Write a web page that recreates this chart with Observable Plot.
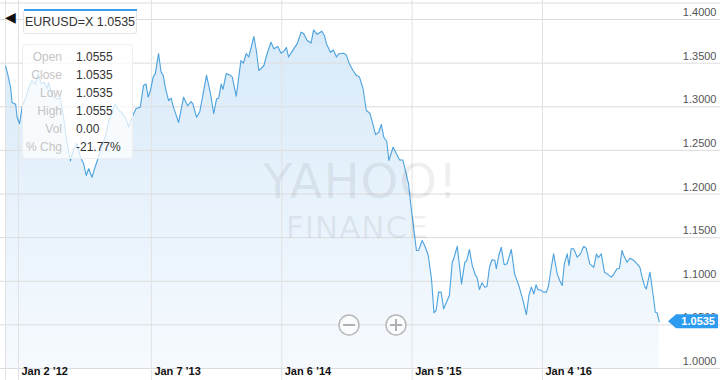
<!DOCTYPE html>
<html><head><meta charset="utf-8">
<script src="https://cdn.jsdelivr.net/npm/d3@7"></script>
<script src="https://cdn.jsdelivr.net/npm/@observablehq/plot@0.6"></script>
<style>
html,body{margin:0;padding:0;background:#fff;}
body{font-family:"Liberation Sans",Arial,sans-serif;}
#wrap{position:relative;width:720px;height:380px;overflow:hidden;}
#wrap svg{display:block;}
.ov{position:absolute;}
#sym{left:23px;top:11px;width:112px;height:22px;border:1px solid #e6e6e6;border-top:none;border-radius:0 0 3px 3px;background:#fff;font-size:12.5px;color:#333;text-align:center;line-height:22px;}
#symbar{left:24px;top:9px;width:113px;height:3px;background:#3a9ee8;}
#arrow{left:5px;top:10px;font-size:14px;line-height:14px;color:#111;}
#tip{left:22px;top:44px;width:109px;height:113px;border:1px solid #eee;border-radius:3px;background:rgba(255,255,255,0.74);font-size:12px;}
.row{position:absolute;left:0;width:109px;height:18px;line-height:18px;}
.row .l{position:absolute;right:70px;color:#c4c4c4;text-align:right;white-space:nowrap;}
.row .v{position:absolute;left:53px;color:#333;white-space:nowrap;}
.wm{position:absolute;color:rgba(0,0,0,0.075);font-family:"DejaVu Sans",sans-serif;letter-spacing:1px;line-height:1;}
</style></head>
<body>
<div id="wrap"></div>
<script>
const dates = ["2011-11-27","2011-12-03","2011-12-11","2011-12-15","2011-12-25","2011-12-29","2012-01-05","2012-01-12","2012-01-21","2012-01-31",
"2012-02-09","2012-02-18","2012-02-26","2012-03-06","2012-03-14","2012-03-22","2012-03-26","2012-04-03","2012-04-09","2012-04-19",
"2012-04-28","2012-05-06","2012-05-17","2012-05-26","2012-06-03","2012-06-13","2012-06-23","2012-07-02","2012-07-09","2012-07-16",
"2012-07-25","2012-08-03","2012-08-12","2012-08-23","2012-09-03","2012-09-11","2012-09-19","2012-09-28","2012-10-08","2012-10-17",
"2012-10-26","2012-11-05","2012-11-14","2012-11-25","2012-12-07","2012-12-16","2012-12-23","2012-12-29","2013-01-04","2013-01-12",
"2013-01-18","2013-01-27","2013-02-03","2013-02-09","2013-02-15","2013-02-24","2013-03-03","2013-03-10","2013-03-24","2013-04-07",
"2013-04-18","2013-04-28","2013-05-03","2013-05-13","2013-05-22","2013-06-10","2013-06-21","2013-06-30","2013-07-08","2013-07-14",
"2013-07-21","2013-07-26","2013-08-04","2013-08-15","2013-08-21","2013-09-01","2013-09-14","2013-09-21","2013-09-29","2013-10-06",
"2013-10-20","2013-10-27","2013-11-03","2013-11-17","2013-11-26","2013-12-07","2013-12-15","2013-12-26","2014-01-04","2014-01-13",
"2014-01-19","2014-01-25","2014-02-08","2014-02-18","2014-03-01","2014-03-08","2014-03-18","2014-03-29","2014-04-05","2014-04-15",
"2014-04-28","2014-05-05","2014-05-11","2014-05-22","2014-05-30","2014-06-08","2014-06-14","2014-06-28","2014-07-05","2014-07-14",
"2014-07-24","2014-08-02","2014-08-11","2014-08-21","2014-08-30","2014-09-09","2014-09-16","2014-09-25","2014-10-04","2014-10-11",
"2014-10-18","2014-10-26","2014-11-01","2014-11-13","2014-11-22","2014-12-01","2014-12-10","2014-12-17","2014-12-26","2015-01-02",
"2015-01-09","2015-01-17","2015-01-23","2015-02-02","2015-02-11","2015-02-19","2015-02-28","2015-03-07","2015-03-13","2015-03-20",
"2015-03-27","2015-04-03","2015-04-13","2015-04-19","2015-04-27","2015-05-01","2015-05-11","2015-05-15","2015-05-23","2015-06-01",
"2015-06-06","2015-06-14","2015-06-22","2015-07-01","2015-07-05","2015-07-12","2015-07-19","2015-07-27","2015-08-02","2015-08-09",
"2015-08-16","2015-08-24","2015-08-28","2015-09-04","2015-09-11","2015-09-19","2015-09-27","2015-10-09","2015-10-18","2015-10-30",
"2015-11-10","2015-11-20","2015-11-27","2015-12-04","2015-12-11","2015-12-17","2015-12-23","2015-12-30","2016-01-07","2016-01-15",
"2016-01-21","2016-01-28","2016-02-04","2016-02-14","2016-02-21","2016-02-28","2016-03-05","2016-03-13","2016-03-18","2016-03-24",
"2016-03-31","2016-04-10","2016-04-19","2016-04-28","2016-05-05","2016-05-15","2016-05-26","2016-06-03","2016-06-08","2016-06-16",
"2016-06-25","2016-07-02","2016-07-14","2016-07-21","2016-07-30","2016-08-06","2016-08-13","2016-08-18","2016-08-27","2016-09-04",
"2016-09-15","2016-09-24","2016-10-02","2016-10-08","2016-10-16","2016-10-20","2016-10-30","2016-11-08","2016-11-14","2016-11-19",
"2016-11-25"];
const closes = [1.3466,1.337,1.322,1.305,1.303,1.288,1.2805,1.2995,1.309,1.3224,
1.330,1.326,1.338,1.326,1.328,1.3206,1.328,1.315,1.311,1.309,
1.310,1.290,1.2575,1.238,1.250,1.258,1.242,1.2346,1.2212,1.229,
1.2192,1.2308,1.242,1.255,1.270,1.285,1.2937,1.3034,1.2957,1.293,
1.288,1.2766,1.288,1.2976,1.2995,1.3244,1.326,1.311,1.318,1.334,
1.338,1.361,1.340,1.336,1.322,1.307,1.310,1.299,1.282,1.311,
1.301,1.306,1.303,1.288,1.294,1.336,1.315,1.292,1.309,1.310,
1.326,1.320,1.338,1.336,1.334,1.312,1.353,1.350,1.361,1.357,
1.3805,1.3645,1.3415,1.347,1.3607,1.374,1.3665,1.369,1.3614,1.364,
1.368,1.357,1.366,1.372,1.3855,1.384,1.376,1.373,1.388,1.383,
1.3866,1.3817,1.372,1.3625,1.365,1.357,1.3607,1.3614,1.3595,1.349,
1.3415,1.336,1.334,1.3206,1.2957,1.2926,1.2823,1.268,1.2708,1.2797,
1.265,1.2605,1.2384,1.2536,1.246,1.239,1.239,1.227,1.2117,1.1849,
1.162,1.1352,1.1352,1.1467,1.139,1.1295,1.1028,1.0638,1.0665,1.0875,
1.0875,1.0684,1.078,1.0837,1.1218,1.1257,1.140,1.1257,1.097,1.1218,
1.123,1.1364,1.118,1.1066,1.105,1.0905,1.0982,1.0932,1.094,1.1161,
1.1246,1.124,1.1143,1.1295,1.139,1.1189,1.120,1.1364,1.1085,1.0951,
1.079,1.0616,1.0837,1.0932,1.0856,1.0959,1.090,1.090,1.0875,1.0875,
1.0951,1.1143,1.1314,1.1085,1.1009,1.0951,1.120,1.1314,1.118,1.1372,
1.1372,1.1276,1.1314,1.1398,1.1379,1.120,1.116,1.1314,1.1269,1.1314,
1.1104,1.1085,1.1047,1.108,1.1143,1.115,1.1352,1.1295,1.1218,1.1264,
1.1238,1.120,1.116,1.1047,1.0932,1.0913,1.1104,1.0837,1.0645,1.0638,
1.0535];
const xTickDates = ["2012-01-02","2013-01-07","2014-01-06","2015-01-05","2016-01-04"];
const xTickLabels = ["Jan 2 \u201912","Jan 7 \u201913","Jan 6 \u201914","Jan 5 \u201915","Jan 4 \u201916"];
const yTicks = [1.00,1.05,1.10,1.15,1.20,1.25,1.30,1.35,1.40];
const yTickLabels = ["1.0000","1.0500","1.1000","1.1500","1.2000","1.2500","1.3000","1.3500","1.4000"];
const symbol = "EURUSD=X";
const lastQuote = "1.0535";
const tipLabels = ["Open","Close","Low","High","Vol","% Chg"];
const tipValues = ["1.0555","1.0535","1.0535","1.0555","0.00","-21.77%"];

const data = dates.map((d,i)=>({date:new Date(d), value:closes[i]}));
const xt = xTickDates.map(d=>new Date(d));
const last = data[data.length-1];

const chart = Plot.plot({
  width:720, height:380,
  marginTop:0, marginBottom:0, marginLeft:0, marginRight:0,
  style:{fontFamily:"Liberation Sans, Arial, sans-serif", background:"#fff", overflow:"visible"},
  x:{type:"utc", domain:[xt[0], xt[4]], range:[18,542], axis:null},
  y:{domain:[yTicks[0], yTicks[8]], range:[368,19], axis:null},
  marks:[
    Plot.areaY(data,{x:"date", y1:()=>yTicks[0], y2:"value", fill:"url(#areaGrad)"}),
    Plot.frame({anchor:"top", dy:2.5, stroke:"#dcdcdc"}),
    Plot.ruleY(yTicks,{stroke:"#dcdcdc", strokeWidth:1}),
    Plot.ruleX(xt,{stroke:"#e2e2e2", strokeWidth:1}),
    Plot.ruleX([data[0].date],{stroke:"#e2e2e2", strokeWidth:1}),
    Plot.line(data,{x:"date", y:"value", stroke:"#4ba2de", strokeWidth:1.1}),
    Plot.text(yTicks,{y:d=>d, frameAnchor:"right", dx:-4, dy:-7, text:(d,i)=>yTickLabels[i], textAnchor:"end", fill:"#555", fontSize:11}),
    Plot.text(xt,{x:d=>d, frameAnchor:"bottom", dy:-6, dx:3, text:(d,i)=>xTickLabels[i], textAnchor:"start", fill:"#111", fontSize:11, fontWeight:"bold"})
  ]
});

const NS = "http://www.w3.org/2000/svg";
const defs = document.createElementNS(NS,"defs");
const grad = document.createElementNS(NS,"linearGradient");
grad.setAttribute("id","areaGrad"); grad.setAttribute("x1","0"); grad.setAttribute("y1","0"); grad.setAttribute("x2","0"); grad.setAttribute("y2","1");
[["0","#d8eaf9"],["1","#f6fafe"]].forEach(([o,c])=>{const s=document.createElementNS(NS,"stop");s.setAttribute("offset",o);s.setAttribute("stop-color",c);grad.appendChild(s);});
defs.appendChild(grad);
chart.insertBefore(defs, chart.firstChild);

// last-value tag
const ys = chart.scale("y").apply(last.value);
const g = document.createElementNS(NS,"g");
const p = document.createElementNS(NS,"path");
p.setAttribute("d",`M668,${ys} L676,${ys-7} L718,${ys-7} L718,${ys+7} L676,${ys+7} Z`);
p.setAttribute("fill","#2d9bef");
g.appendChild(p);
const t = document.createElementNS(NS,"text");
t.setAttribute("x","715"); t.setAttribute("y",ys+4); t.setAttribute("text-anchor","end");
t.setAttribute("font-size","11"); t.setAttribute("font-weight","bold"); t.setAttribute("fill","#fff");
t.textContent = lastQuote; g.appendChild(t);
// zoom buttons
[[349,"minus"],[396,"plus"]].forEach(([cx,k])=>{
  const c=document.createElementNS(NS,"circle");
  c.setAttribute("cx",cx);c.setAttribute("cy",325);c.setAttribute("r",10);
  c.setAttribute("fill","rgba(255,255,255,0.6)");c.setAttribute("stroke","#b8b8b8");c.setAttribute("stroke-width","1.5");
  g.appendChild(c);
  const l=document.createElementNS(NS,"path");
  l.setAttribute("d", k==="minus"?`M${cx-6},325 H${cx+6}`:`M${cx-6},325 H${cx+6} M${cx},319 V331`);
  l.setAttribute("stroke","#b0b0b0");l.setAttribute("stroke-width","2");
  g.appendChild(l);
});
chart.appendChild(g);

const wrap = document.getElementById("wrap");
wrap.appendChild(chart);

// watermark
const wm1=document.createElement("div"); wm1.className="wm"; wm1.textContent="YAHOO!";
wm1.style.cssText+="left:263px;top:157px;font-size:48px;";
const wm2=document.createElement("div"); wm2.className="wm"; wm2.textContent="FINANCE";
wm2.style.cssText+="left:286px;top:212px;font-size:31px;";
wrap.appendChild(wm1); wrap.appendChild(wm2);

// symbol box
const arrow=document.createElement("div"); arrow.className="ov"; arrow.id="arrow"; arrow.textContent="\u25C0"; wrap.appendChild(arrow);
const bar=document.createElement("div"); bar.className="ov"; bar.id="symbar"; wrap.appendChild(bar);
const sym=document.createElement("div"); sym.className="ov"; sym.id="sym"; sym.textContent=symbol+" "+lastQuote; wrap.appendChild(sym);

// tooltip
const tip=document.createElement("div"); tip.className="ov"; tip.id="tip";
tipLabels.forEach((lab,i)=>{
  const r=document.createElement("div"); r.className="row"; r.style.top=(3+i*18)+"px";
  r.innerHTML=`<span class="l"></span><span class="v"></span>`;
  r.querySelector(".l").textContent=lab; r.querySelector(".v").textContent=tipValues[i];
  tip.appendChild(r);
});
wrap.appendChild(tip);
</script>
</body></html>
